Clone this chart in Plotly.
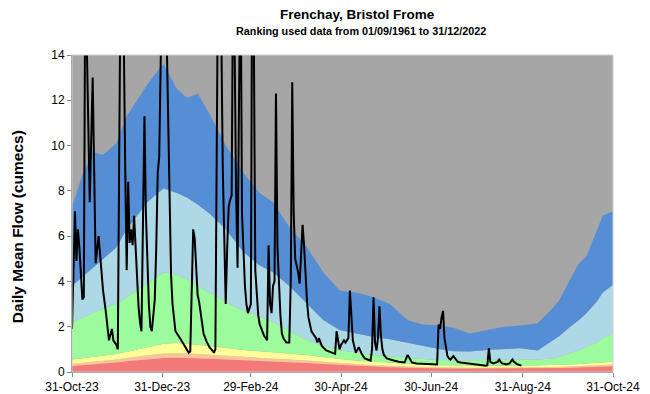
import plotly.graph_objects as go

# Percentile band boundaries (cumecs) on a common set of dates
band_dates = ["2023-10-31", "2023-11-07", "2023-11-14", "2023-11-21", "2023-11-30",
              "2023-12-07", "2023-12-14", "2023-12-21", "2023-12-28", "2024-01-01",
              "2024-01-10", "2024-01-17", "2024-01-24", "2024-02-01", "2024-02-12",
              "2024-02-24", "2024-03-06", "2024-03-15", "2024-03-26", "2024-04-07",
              "2024-04-18", "2024-04-29", "2024-05-11", "2024-05-22", "2024-06-02",
              "2024-06-14", "2024-06-24", "2024-07-06", "2024-07-15", "2024-07-26",
              "2024-08-07", "2024-08-18", "2024-08-29", "2024-09-10", "2024-09-20",
              "2024-09-25", "2024-10-02", "2024-10-08", "2024-10-13", "2024-10-20",
              "2024-10-24", "2024-10-31"]

exceptionally_low_top = [0.27, 0.30, 0.33, 0.37, 0.42, 0.47, 0.52, 0.56, 0.60, 0.62,
                         0.63, 0.62, 0.60, 0.58, 0.55, 0.52, 0.50, 0.47, 0.44, 0.40,
                         0.35, 0.31, 0.27, 0.24, 0.21, 0.19, 0.17, 0.16, 0.15, 0.15,
                         0.15, 0.15, 0.15, 0.16, 0.17, 0.18, 0.19, 0.20, 0.21, 0.23,
                         0.24, 0.25]
notably_low_top = [0.36, 0.40, 0.44, 0.49, 0.55, 0.62, 0.69, 0.75, 0.80, 0.82,
                   0.83, 0.82, 0.79, 0.76, 0.72, 0.68, 0.65, 0.61, 0.57, 0.51,
                   0.45, 0.39, 0.34, 0.30, 0.26, 0.24, 0.22, 0.20, 0.19, 0.19,
                   0.19, 0.19, 0.19, 0.20, 0.21, 0.22, 0.24, 0.25, 0.27, 0.29,
                   0.31, 0.33]
below_normal_top = [0.55, 0.60, 0.65, 0.72, 0.80, 0.90, 1.00, 1.10, 1.20, 1.25,
                    1.28, 1.25, 1.20, 1.15, 1.05, 0.97, 0.92, 0.88, 0.82, 0.75,
                    0.65, 0.57, 0.50, 0.45, 0.40, 0.36, 0.33, 0.30, 0.29, 0.28,
                    0.28, 0.28, 0.28, 0.29, 0.30, 0.31, 0.33, 0.35, 0.37, 0.40,
                    0.43, 0.45]
normal_top = [2.2, 2.4, 2.6, 2.8, 3.0, 3.3, 3.6, 3.9, 4.2, 4.4,
              4.3, 4.1, 3.8, 3.5, 3.1, 2.7, 2.45, 2.2, 1.8, 1.4,
              1.15, 0.97, 0.85, 0.75, 0.70, 0.62, 0.57, 0.53, 0.52, 0.52,
              0.53, 0.53, 0.53, 0.55, 0.60, 0.70, 0.83, 0.95, 1.1, 1.3,
              1.5, 1.7]
above_normal_top = [3.8, 4.2, 4.6, 5.0, 5.5, 6.3, 6.9, 7.5, 7.9, 8.1,
                    7.9, 7.7, 7.4, 7.0, 6.3, 5.3, 4.7, 4.4, 3.8, 3.0,
                    2.3, 1.85, 1.7, 1.55, 1.45, 1.28, 1.15, 1.0, 0.92, 0.90,
                    0.97, 1.0, 1.05, 0.95, 1.4, 1.6, 2.0, 2.3, 2.6, 3.1,
                    3.5, 3.85]
notably_high_top = [7.3, 8.7, 9.7, 9.6, 10.1, 11.3, 12.0, 12.7, 13.3, 13.6,
                    12.5, 12.1, 12.3, 11.4, 10.0, 8.8, 7.9, 7.5, 6.4, 5.5,
                    4.4, 3.6, 3.5, 3.3, 3.0, 2.3, 2.1, 2.05, 1.95, 1.7,
                    1.85, 2.0, 2.05, 2.15, 2.8, 3.2, 4.1, 4.8, 5.1, 6.2,
                    6.9, 7.1]

# Daily mean flow (cumecs)
flow_dates = ["2023-10-31", "2023-11-02", "2023-11-03", "2023-11-04", "2023-11-05",
              "2023-11-07", "2023-11-08", "2023-11-09", "2023-11-10", "2023-11-12",
              "2023-11-14", "2023-11-15", "2023-11-16", "2023-11-18", "2023-11-20",
              "2023-11-21", "2023-11-23", "2023-11-25", "2023-11-27", "2023-11-28",
              "2023-11-30", "2023-12-01", "2023-12-03", "2023-12-04", "2023-12-05",
              "2023-12-06", "2023-12-07", "2023-12-08", "2023-12-09", "2023-12-10",
              "2023-12-11", "2023-12-12", "2023-12-13", "2023-12-14", "2023-12-15",
              "2023-12-16", "2023-12-17", "2023-12-18", "2023-12-19", "2023-12-20",
              "2023-12-21", "2023-12-22", "2023-12-23", "2023-12-24", "2023-12-25",
              "2023-12-26", "2023-12-27", "2023-12-28", "2023-12-29", "2023-12-30",
              "2023-12-31", "2024-01-01", "2024-01-02", "2024-01-03", "2024-01-04",
              "2024-01-05", "2024-01-06", "2024-01-07", "2024-01-08", "2024-01-09",
              "2024-01-12", "2024-01-15", "2024-01-18", "2024-01-19", "2024-01-20",
              "2024-01-21", "2024-01-22", "2024-01-23", "2024-01-24", "2024-01-25",
              "2024-01-26", "2024-01-27", "2024-01-28", "2024-01-30", "2024-02-01",
              "2024-02-03", "2024-02-04", "2024-02-05", "2024-02-06", "2024-02-07",
              "2024-02-08", "2024-02-09", "2024-02-10", "2024-02-11", "2024-02-12",
              "2024-02-13", "2024-02-14", "2024-02-15", "2024-02-16", "2024-02-17",
              "2024-02-18", "2024-02-19", "2024-02-20", "2024-02-21", "2024-02-22",
              "2024-02-23", "2024-02-24", "2024-02-25", "2024-02-26", "2024-02-27",
              "2024-02-28", "2024-02-29", "2024-03-01", "2024-03-02", "2024-03-03",
              "2024-03-04", "2024-03-05", "2024-03-06", "2024-03-07", "2024-03-09",
              "2024-03-10", "2024-03-11", "2024-03-12", "2024-03-13", "2024-03-14",
              "2024-03-15", "2024-03-16", "2024-03-17", "2024-03-18", "2024-03-19",
              "2024-03-20", "2024-03-21", "2024-03-22", "2024-03-24", "2024-03-26",
              "2024-03-27", "2024-03-28", "2024-03-29", "2024-03-30", "2024-03-31",
              "2024-04-01", "2024-04-02", "2024-04-03", "2024-04-04", "2024-04-05",
              "2024-04-06", "2024-04-07", "2024-04-08", "2024-04-09", "2024-04-10",
              "2024-04-13", "2024-04-14", "2024-04-15", "2024-04-17", "2024-04-20",
              "2024-04-24", "2024-04-26", "2024-04-27", "2024-04-29", "2024-04-30",
              "2024-05-01", "2024-05-02", "2024-05-03", "2024-05-04", "2024-05-05",
              "2024-05-06", "2024-05-07", "2024-05-08", "2024-05-10", "2024-05-12",
              "2024-05-14", "2024-05-16", "2024-05-18", "2024-05-20", "2024-05-21",
              "2024-05-22", "2024-05-23", "2024-05-24", "2024-05-25", "2024-05-26",
              "2024-05-27", "2024-05-28", "2024-05-29", "2024-05-31", "2024-06-04",
              "2024-06-08", "2024-06-12", "2024-06-14", "2024-06-15", "2024-06-17",
              "2024-06-20", "2024-06-27", "2024-07-03", "2024-07-04", "2024-07-05",
              "2024-07-06", "2024-07-07", "2024-07-08", "2024-07-09", "2024-07-10",
              "2024-07-11", "2024-07-12", "2024-07-13", "2024-07-15", "2024-07-16",
              "2024-07-18", "2024-07-20", "2024-07-25", "2024-07-27", "2024-08-01",
              "2024-08-06", "2024-08-07", "2024-08-08", "2024-08-09", "2024-08-11",
              "2024-08-14", "2024-08-15", "2024-08-16", "2024-08-17", "2024-08-19",
              "2024-08-20", "2024-08-22", "2024-08-24", "2024-08-25", "2024-08-27",
              "2024-08-30"]
flow_values = [1.9, 7.1, 4.9, 6.3, 5.5,
               3.2, 3.3, 18.0, 14.5, 7.5,
               13.0, 8.5, 4.8, 6.0, 4.6,
               3.6, 2.6, 1.4, 1.9, 1.4,
               1.2, 1.0, 19.0, 17.0, 15.0,
               9.0, 4.5, 8.4, 5.7, 6.3,
               5.6, 6.9, 5.5, 4.0, 2.9,
               2.2, 1.8, 6.5, 11.3, 7.0,
               4.5, 3.0, 2.0, 1.8, 2.5,
               3.2, 5.5, 8.8, 9.5, 16.0,
               20.0, 22.0, 20.0, 15.0, 11.0,
               7.2, 4.3, 3.0, 2.2, 1.8,
               1.5, 1.2, 0.85, 0.9, 4.5,
               6.3, 5.9, 4.5, 3.4, 3.1,
               2.6, 2.0, 1.7, 1.35, 1.1,
               0.95, 0.85, 1.0, 8.9, 20.0,
               18.0, 15.0, 9.0, 5.0, 3.0,
               5.5, 7.3, 7.6, 7.8, 18.0,
               14.5, 8.0, 4.6, 12.0, 19.0,
               7.0, 5.0, 3.8, 3.0, 2.6,
               2.8, 3.0, 20.0, 15.0, 4.5,
               3.2, 2.5, 2.1, 1.9, 1.6,
               1.5, 1.4, 5.6, 3.0, 2.6,
               3.8, 4.0, 12.3, 5.5, 3.6,
               2.5, 1.7, 1.5, 1.3, 1.3,
               4.0, 12.8, 7.0, 5.0, 4.7,
               4.4, 3.9, 5.0, 6.5, 5.6,
               4.3, 3.1, 2.4, 2.0, 1.8,
               1.5, 1.3, 1.5, 1.15, 0.95,
               0.85, 0.8, 1.8, 1.0, 1.2,
               1.3, 1.4, 1.3, 1.4, 1.5,
               3.6, 2.2, 1.4, 0.85, 1.1,
               0.8, 0.6, 0.55, 0.5, 1.0,
               3.3, 1.3, 0.95, 1.5, 2.9,
               1.6, 1.0, 0.75, 0.6, 0.52,
               0.45, 0.42, 0.75, 0.65, 0.42,
               0.38, 0.35, 0.32, 0.33, 2.1,
               1.9, 2.4, 2.7, 1.5, 1.0,
               0.7, 0.6, 0.55, 0.7, 0.6,
               0.45, 0.42, 0.38, 0.35, 0.3,
               0.28, 0.3, 1.05, 0.45, 0.38,
               0.45, 0.55, 0.45, 0.38, 0.35,
               0.33, 0.38, 0.55, 0.45, 0.35,
               0.28]

tick_dates = ["2023-10-31", "2023-12-31", "2024-02-29", "2024-04-30",
              "2024-06-30", "2024-08-31", "2024-10-31"]

bands = [
    ("Exceptionally low", exceptionally_low_top, "#F47A7A"),
    ("Notably low", notably_low_top, "#FCC39A"),
    ("Below normal", below_normal_top, "#FFFF99"),
    ("Normal", normal_top, "#9CFB9C"),
    ("Above normal", above_normal_top, "#ADD8E6"),
    ("Notably high", notably_high_top, "#558ED5"),
]

fig = go.Figure()
for i, (name, top, colour) in enumerate(bands):
    fig.add_trace(go.Scatter(
        x=band_dates, y=top, name=name, mode="lines",
        line=dict(width=0, color=colour),
        fill="tozeroy" if i == 0 else "tonexty",
        fillcolor=colour, hoverinfo="skip",
    ))

fig.add_trace(go.Scatter(
    x=flow_dates, y=flow_values, name="Daily mean flow", mode="lines",
    line=dict(color="#000000", width=2),
))

axis_font = dict(family="Liberation Sans, Arial, sans-serif", size=12, color="#000000")

fig.update_layout(
    width=650, height=394,
    margin=dict(l=72, r=37, t=55, b=22),
    paper_bgcolor="#FFFFFF",
    plot_bgcolor="#A6A6A6",
    showlegend=False,
    xaxis=dict(
        type="date", range=["2023-10-31", "2024-10-31"],
        tickvals=tick_dates, tickformat="%d-%b-%y",
        ticks="outside", ticklen=4, tickcolor="#868686",
        showline=True, linecolor="#868686", linewidth=1,
        showgrid=False, zeroline=False, tickfont=axis_font,
        automargin=False,
    ),
    yaxis=dict(
        range=[0, 14], dtick=2,
        ticks="outside", ticklen=4, tickcolor="#868686",
        showline=True, linecolor="#868686", linewidth=1,
        showgrid=False, zeroline=False, tickfont=axis_font,
        automargin=False,
    ),
    shapes=[dict(type="rect", xref="paper", yref="paper", x0=0, x1=1, y0=0, y1=1,
                 line=dict(color="#D0D0D0", width=1), layer="above")],
    annotations=[
        dict(text="<b>Frenchay, Bristol Frome</b>", xref="paper", yref="paper",
             x=0.527, y=1 + 40 / 317, xanchor="center", yanchor="middle",
             showarrow=False,
             font=dict(family="Liberation Sans, Arial, sans-serif", size=13.5, color="#000000")),
        dict(text="<b>Ranking used data from 01/09/1961 to 31/12/2022</b>",
             xref="paper", yref="paper",
             x=0.535, y=1 + 24 / 317, xanchor="center", yanchor="middle",
             showarrow=False,
             font=dict(family="Liberation Sans, Arial, sans-serif", size=10.8, color="#000000")),
        dict(text="<b>Daily Mean Flow (cumecs)</b>", xref="paper", yref="paper",
             x=-55 / 541, y=0.457, xanchor="center", yanchor="middle", textangle=-90,
             showarrow=False,
             font=dict(family="Liberation Sans, Arial, sans-serif", size=15.5, color="#000000")),
    ],
)

fig.write_html("out.html")
